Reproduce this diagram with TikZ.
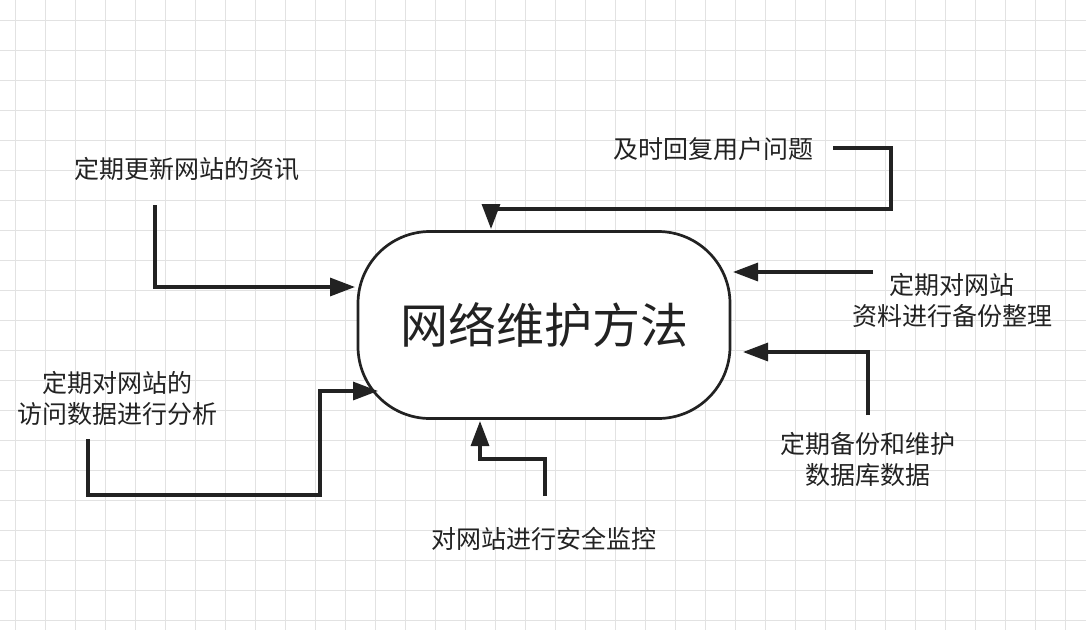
\documentclass[tikz,border=0pt]{standalone}
\usepackage{fontspec}
\newfontfamily\cjk{Noto Sans CJK SC}
\usetikzlibrary{arrows.meta}
\definecolor{ink}{HTML}{222222}
\definecolor{gridline}{HTML}{E2E2E2}
\tikzset{
  labeltext/.style={font=\cjk\fontsize{25}{31}\selectfont, text=ink, align=center, inner sep=0pt},
  flow/.style={draw=ink, line width=3.2pt, -{Triangle[length=25pt,width=18pt]}},
}
\begin{document}
\begin{tikzpicture}[x=1pt,y=-1pt]
\useasboundingbox (0,0) rectangle (1086,630);
% background grid:
\fill[white] (0,0) rectangle (1086,630);
\foreach \gx in {15,45,...,1085} \draw[gridline] (\gx,0) -- (\gx,630);
\foreach \gy in {20,50,...,620} \draw[gridline] (0,\gy) -- (1086,\gy);
% centre:
\node[draw=ink, line width=2.7pt, fill=white, rounded corners=72pt,
  minimum width=372pt, minimum height=187pt,
  font=\cjk\fontsize{48}{56}\selectfont, text=ink] (main) at (544,325) {网络维护方法};
% labels:
\node[labeltext] (update) at (187,169) {定期更新网站的资讯};
\node[labeltext] (reply) at (713,149) {及时回复用户问题};
\node[labeltext] (backup) at (952,300) {定期对网站\\资料进行备份整理};
\node[labeltext] (database) at (868,459) {定期备份和维护\\数据库数据};
\node[labeltext] (security) at (544,539) {对网站进行安全监控};
\node[labeltext] (analysis) at (117,398) {定期对网站的\\访问数据进行分析};
% connector ends:
\coordinate (update out) at (155,205);
\coordinate (reply out) at (833,148);
\coordinate (backup out) at (873,272);
\coordinate (database out) at (868,415);
\coordinate (security out) at (545,496);
\coordinate (analysis out) at (88,439);
\coordinate (update in) at (355,287);
\coordinate (reply in) at (491,229);
\coordinate (backup in) at (733,272);
\coordinate (database in) at (743,352);
\coordinate (security in) at (480,421);
\coordinate (analysis in) at (378,391);
% connectors:
\draw[flow] (update out) |- (update in);
\draw[flow] (reply out) -| (891,209) -| (reply in);
\draw[flow] (backup out) -- (backup in);
\draw[flow] (database out) |- (database in);
\draw[flow] (security out) |- (480,459) -- (security in);
\draw[flow] (analysis out) |- (320,495) |- (analysis in);
\end{tikzpicture}
\end{document}
